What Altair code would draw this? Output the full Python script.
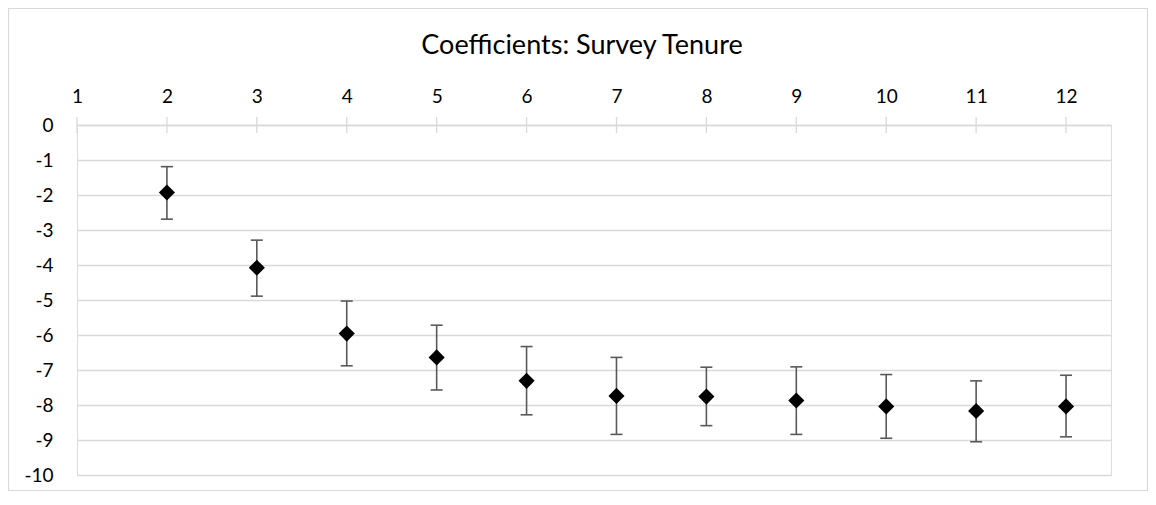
import altair as alt
import pandas as pd

# Data
tenure = [2, 3, 4, 5, 6, 7, 8, 9, 10, 11, 12]
coef = [-1.93, -4.08, -5.96, -6.64, -7.31, -7.74, -7.76, -7.87, -8.04, -8.17, -8.04]
upper = [-1.19, -3.29, -5.03, -5.72, -6.33, -6.64, -6.92, -6.91, -7.13, -7.31, -7.15]
lower = [-2.69, -4.89, -6.88, -7.57, -8.28, -8.84, -8.59, -8.84, -8.95, -9.05, -8.91]
x_ticks = [1, 2, 3, 4, 5, 6, 7, 8, 9, 10, 11, 12]
y_ticks = [0, -1, -2, -3, -4, -5, -6, -7, -8, -9, -10]

df = pd.DataFrame({"x": tenure, "coef": coef, "hi": upper, "lo": lower})
ticks_df = pd.DataFrame({"x": x_ticks})
frame_df = pd.DataFrame({"a": [1]})

FONT = "Lato"
GRID = "#d9d9d9"
BAR = "#595959"

W, H = 1034, 350
PAD = {"left": 69, "top": 117, "right": 37, "bottom": 16}

xscale = alt.Scale(domain=[1, 12.5], nice=False, zero=False)
yscale = alt.Scale(domain=[-10, 0], nice=False, zero=False)

xaxis = alt.Axis(orient="top", values=x_ticks, labelExpr="toString(datum.value)",
                 grid=False, ticks=False, labelOverlap=False,
                 domain=True, domainColor=GRID, domainWidth=1.3,
                 labelFont=FONT, labelFontSize=19, labelColor="#000000",
                 labelPadding=23, labelBaseline="alphabetic", labelFlush=False, title=None)
yaxis = alt.Axis(values=y_ticks, labelExpr="toString(datum.value)", grid=True,
                 gridColor=GRID, gridWidth=1.3, labelOverlap=False,
                 ticks=False, domain=False, labelFont=FONT, labelFontSize=19,
                 labelColor="#000000", labelPadding=24, title=None)

X = alt.X("x:Q", scale=xscale, axis=xaxis)


def Y(field):
    return alt.Y(field, type="quantitative", scale=yscale, axis=yaxis)


base = alt.Chart(df)

frame = alt.Chart(frame_df).mark_rect(fill=None, stroke=GRID, strokeWidth=1.2).encode(
    x=alt.value(-68.5), x2=alt.value(W + PAD["right"] - 0.5),
    y=alt.value(-116.5), y2=alt.value(H + PAD["bottom"] - 0.5))

tickmarks = alt.Chart(ticks_df).mark_rule(color=GRID, strokeWidth=1.3).encode(
    x=X, y=alt.value(-8), y2=alt.value(8))

stems = base.mark_rule(color=BAR, strokeWidth=1.6).encode(
    x=X, y=Y("lo"), y2="hi:Q")

cap_hi = base.mark_rule(color=BAR, strokeWidth=1.6, xOffset=-6, x2Offset=6).encode(
    x=X, x2="x:Q", y=Y("hi"))
cap_lo = base.mark_rule(color=BAR, strokeWidth=1.6, xOffset=-6, x2Offset=6).encode(
    x=X, x2="x:Q", y=Y("lo"))

points = base.mark_point(shape="diamond", filled=True, color="#000000", size=260, opacity=1).encode(
    x=X, y=Y("coef"))

chart = alt.layer(frame, tickmarks, stems, cap_hi, cap_lo, points).properties(
    width=W, height=H,
    padding=PAD,
    autosize=alt.AutoSizeParams(type="none"),
    title=alt.TitleParams("Coefficients: Survey Tenure", font=FONT, fontSize=27,
                          fontWeight="normal", color="#000000", anchor="middle",
                          frame="group", baseline="alphabetic", offset=-73.5, dx=-12),
).configure_view(stroke=None).configure(background="white")

chart.save("out.html", embed_options={"renderer": "svg", "actions": False})
